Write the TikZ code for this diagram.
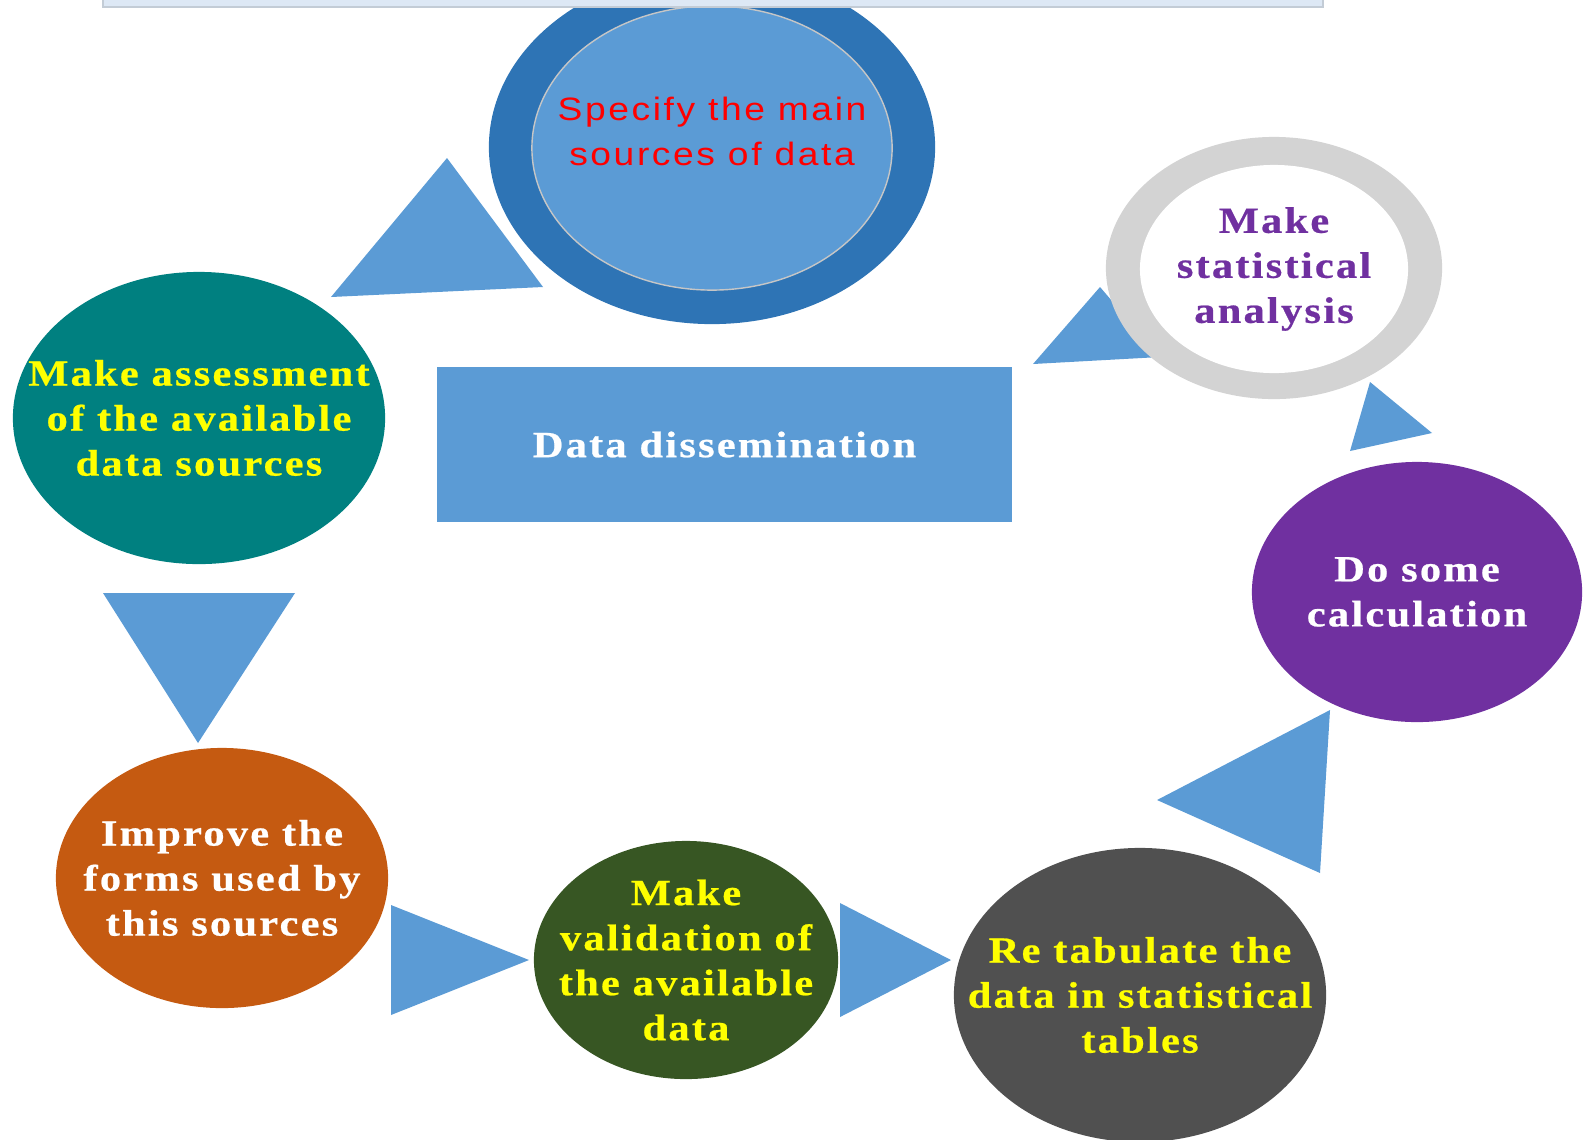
\documentclass[tikz,border=0pt]{standalone}
\usepackage{fontspec}
\setmainfont{Liberation Serif}
\newfontfamily\spserif{Liberation Serif}[LetterSpace=6,FakeStretch=1.15,FakeBold=0.6]
\newfontfamily\spsans{Liberation Sans}[LetterSpace=8,FakeStretch=1.15]
\usetikzlibrary{shapes.geometric}
\definecolor{triblue}{HTML}{5B9BD5}
\definecolor{darkblue}{HTML}{2E74B5}
\definecolor{tealc}{HTML}{008080}
\definecolor{orangec}{HTML}{C55A11}
\definecolor{greenc}{HTML}{375623}
\definecolor{grayc}{HTML}{505050}
\definecolor{purplec}{HTML}{7030A0}
\definecolor{ringgray}{HTML}{D3D3D3}
\definecolor{barfill}{HTML}{DDE8F5}
\definecolor{barline}{HTML}{C3CCD6}
\definecolor{yellowc}{HTML}{FFFF00}
\definecolor{redc}{HTML}{FF0000}
\begin{document}
\begin{tikzpicture}[x=0.01cm,y=-0.01cm,
  oval/.style={ellipse, inner sep=0pt},
  lbl/.style={align=center, inner sep=0pt,
    font=\spserif\bfseries\fontsize{10.5}{12.8}\selectfont},
  arrowtri/.style={fill=triblue},
  boxstep/.style={rectangle, inner sep=0pt, fill=triblue}]
\useasboundingbox (0,0) rectangle (1589,1139);

% specify (double ellipse)
\node[oval, fill=darkblue, minimum width=4.46cm, minimum height=3.54cm] (specOuter) at (712,147) {};
\node[oval, fill=triblue, draw=gray!45, line width=0.4pt, minimum width=3.60cm, minimum height=2.84cm] (specInner) at (712,148) {};
\node[align=center, inner sep=0pt, text=redc, font=\spsans\fontsize{9.2}{12.8}\selectfont] (specText) at (712,131) {Specify the main\\sources of data};

% top bar
\fill[barfill] (103,-10) rectangle (1323,7);
\draw[barline, line width=0.6pt] (103,-10) -- (103,7) -- (1323,7) -- (1323,-10);

% triangles
\fill[arrowtri] (447,158) -- (331,297) -- (543,287) -- cycle;
\fill[arrowtri] (103,593) -- (295,593) -- (198,743) -- cycle;
\fill[arrowtri] (391,905) -- (391,1015) -- (529,960) -- cycle;
\fill[arrowtri] (840,903) -- (840,1017) -- (951,960) -- cycle;
\fill[arrowtri] (1330,710) -- (1157,800) -- (1320,873) -- cycle;
\fill[arrowtri] (1370,382) -- (1432,433) -- (1350,451) -- cycle;
\fill[arrowtri] (1100,287) -- (1033,364) -- (1160,357) -- cycle;

% statistical analysis ring
\node[oval, fill=ringgray, minimum width=3.36cm, minimum height=2.62cm] (statOuter) at (1274,268) {};
\node[oval, fill=white, minimum width=2.68cm, minimum height=2.08cm] (statInner) at (1274,269) {};
\node[lbl, text=purplec] (stat) at (statInner.center) {Make\\statistical\\analysis};

% assessment
\node[oval, fill=tealc, minimum width=3.72cm, minimum height=2.92cm] (assessShape) at (199,418) {};
\node[lbl, text=yellowc] (assess) at (assessShape.center) {Make assessment\\of the available\\data sources};

% dissemination
\node[boxstep, minimum width=5.75cm, minimum height=1.55cm] (dissemShape) at (724.5,444.5) {};
\node[lbl, text=white] (dissem) at (dissemShape.center) {Data dissemination};

% calculation
\node[oval, fill=purplec, minimum width=3.30cm, minimum height=2.60cm] (calcShape) at (1417,592) {};
\node[lbl, text=white] (calc) at (calcShape.center) {Do some\\calculation};

% improve
\node[oval, fill=orangec, minimum width=3.32cm, minimum height=2.60cm] (improveShape) at (222,878) {};
\node[lbl, text=white] (improve) at (improveShape.center) {Improve the\\forms used by\\this sources};

% validation
\node[oval, fill=greenc, minimum width=3.04cm, minimum height=2.38cm] (validShape) at (686,960) {};
\node[lbl, text=yellowc] (valid) at (validShape.center) {Make\\validation of\\the available\\data};

% re tabulate
\node[oval, fill=grayc, minimum width=3.72cm, minimum height=2.94cm] (retabShape) at (1140,995) {};
\node[lbl, text=yellowc] (retab) at (retabShape.center) {Re tabulate the\\data in statistical\\tables};
\end{tikzpicture}
\end{document}
